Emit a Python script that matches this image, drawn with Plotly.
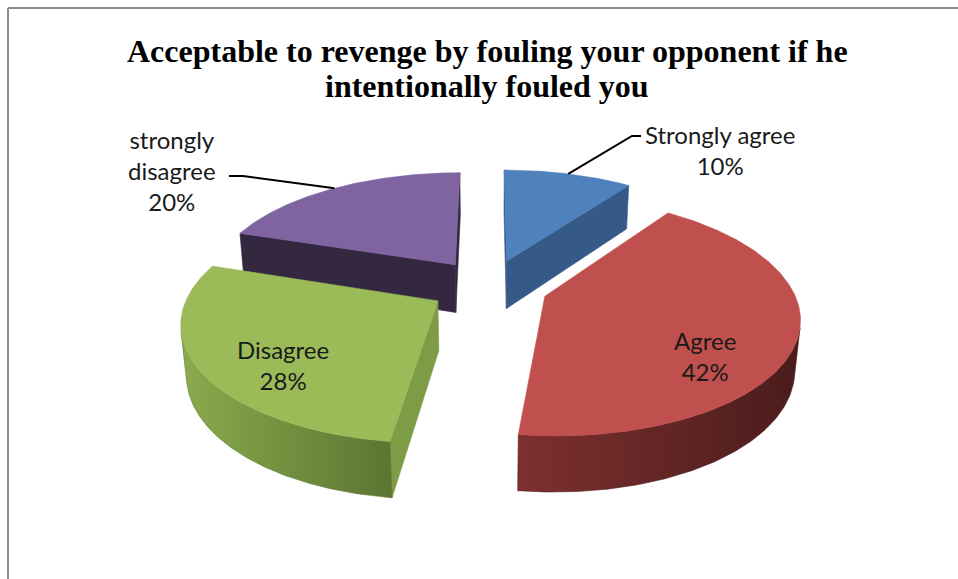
import numpy as np
import plotly.graph_objects as go

# ---- data -------------------------------------------------------------
categories = ["Strongly agree", "Agree", "Disagree", "strongly disagree"]
percent = [10, 42, 28, 20]
label_lines = ["Strongly agree", "Agree", "Disagree", "strongly<br>disagree"]

top_colors = ["#4F81BD", "#C0504D", "#9BBB59", "#8064A2"]
side_colors = [("#3F6797", "#2C4A70"), ("#7D302F", "#4A1C1B"),
               ("#8AAB4D", "#5C7532"), ("#4A3A5E", "#2E2238")]
face_colors = ["#365A88", "#7A2E2D", "#7C9D46", "#342840"]

title_lines = ["Acceptable to revenge by fouling your opponent if he",
               "intentionally fouled you"]

# ---- page / 3-D projection setup --------------------------------------
W, H = 958, 579
CX, CY = 489, 286                      # pixel position of the pie centre
F, DIST, TILT = 1387.0, 5.48, np.radians(26.6)
XSCALE = 0.975                         # slight horizontal squeeze of the view
THICK = 0.22                           # pie thickness (radius = 1)
EXPLODE = 0.24                         # slice explosion distance

cam = np.array([0.0, DIST * np.sin(TILT), -DIST * np.cos(TILT)])


def project(X, Y, Z):
    X, Y, Z = map(np.asarray, (X, Y, Z))
    depth = DIST + Z * np.cos(TILT) - Y * np.sin(TILT)
    u = XSCALE * F * X / depth
    v = F * (Z * np.sin(TILT) + Y * np.cos(TILT)) / depth
    return u, v


def px(x, y):
    """page pixel -> axis units"""
    return x - CX, CY - y


def poly(u, v, color, gradient=None):
    kw = dict(x=list(u) + [u[0]], y=list(v) + [v[0]], mode="lines",
              fill="toself", hoverinfo="skip", showlegend=False,
              line=dict(width=0.6, color=color))
    if gradient:
        kw["fillgradient"] = dict(type="horizontal",
                                  colorscale=[[0, gradient[0]], [1, gradient[1]]])
        kw["line"] = dict(width=0.6, color=gradient[1])
    else:
        kw["fillcolor"] = color
    return go.Scatter(**kw)


fracs = np.array(percent, float) / sum(percent)
ends = np.cumsum(fracs) * 2 * np.pi
starts = ends - fracs * 2 * np.pi
mids = (starts + ends) / 2
offs = [(EXPLODE * np.sin(m), EXPLODE * np.cos(m)) for m in mids]

fig = go.Figure()

order = sorted(range(len(percent)), key=lambda i: -offs[i][1])
for i in order:
    s, e = starts[i], ends[i]
    ox, oz = offs[i]
    th = np.linspace(s, e, 200)
    rx, rz = ox + np.sin(th), oz + np.cos(th)

    # radial cut faces
    for ang, nrm in ((s, (-np.cos(s), 0, np.sin(s))), (e, (np.cos(e), 0, -np.sin(e)))):
        P = np.array([ox + 0.5 * np.sin(ang), -THICK / 2, oz + 0.5 * np.cos(ang)])
        if np.dot(cam - P, nrm) > 0:
            X = [ox, ox + np.sin(ang), ox + np.sin(ang), ox]
            Z = [oz, oz + np.cos(ang), oz + np.cos(ang), oz]
            Y = [0, 0, -THICK, -THICK]
            u, v = project(X, Y, Z)
            fig.add_trace(poly(u, v, face_colors[i]))

    # outer curved side (only the part facing the viewer)
    P = np.stack([rx, np.full_like(rx, -THICK / 2), rz], axis=1)
    N = np.stack([np.sin(th), np.zeros_like(th), np.cos(th)], axis=1)
    vis = np.einsum("ij,ij->i", cam - P, N) > 0
    if vis.sum() >= 2:
        vx, vz = rx[vis], rz[vis]
        ut, vt = project(vx, np.zeros_like(vx), vz)
        ub, vb = project(vx[::-1], np.full_like(vx, -THICK), vz[::-1])
        fig.add_trace(poly(np.r_[ut, ub], np.r_[vt, vb], side_colors[i][0], side_colors[i]))

    # top face
    u, v = project(np.r_[ox, rx], np.zeros(len(rx) + 1), np.r_[oz, rz])
    fig.add_trace(poly(u, v, top_colors[i]))

# ---- labels -----------------------------------------------------------
label_font = dict(family="Lato, Calibri, sans-serif", size=24, color="#1a1a1a")
label_pos = {0: (720, 150), 1: (705, 356), 2: (283, 365), 3: (172, 170)}
annotations = []
for i, (lx, ly) in label_pos.items():
    ax_, ay_ = px(lx, ly)
    annotations.append(dict(x=ax_, y=ay_, xref="x", yref="y", showarrow=False,
                            text=f"{label_lines[i]}<br>{percent[i]}%",
                            font=label_font, align="center", yanchor="middle"))

# leader lines from the rim of the two back slices to their labels
leader_ends = {0: [(632, 136), (641, 136)], 3: [(243, 176), (229, 176)]}
for i, pts in leader_ends.items():
    ox, oz = offs[i]
    u0, v0 = project(ox + np.sin(mids[i]), 0.0, oz + np.cos(mids[i]))
    xs = [float(u0)] + [px(a, b)[0] for a, b in pts]
    ys = [float(v0)] + [px(a, b)[1] for a, b in pts]
    fig.add_trace(go.Scatter(x=xs, y=ys, mode="lines", hoverinfo="skip",
                             showlegend=False, line=dict(color="#000000", width=2)))

title_font = dict(family="Liberation Serif, Times New Roman, serif",
                  size=32, color="#000000", weight="bold")
for line, ty in zip(title_lines, (51, 86)):
    annotations.append(dict(x=487 / W, y=1 - ty / H, xref="paper", yref="paper",
                            showarrow=False, text=line, yanchor="middle",
                            font=title_font))

fig.update_layout(
    width=W, height=H, margin=dict(l=0, r=0, t=0, b=0),
    paper_bgcolor="white", plot_bgcolor="white",
    xaxis=dict(range=[-CX, W - CX], visible=False, fixedrange=True),
    yaxis=dict(range=[CY - H, CY], visible=False, fixedrange=True),
    annotations=annotations,
    shapes=[
        dict(type="line", xref="paper", yref="paper", x0=8 / W, x1=1, y0=1 - 8 / H, y1=1 - 8 / H,
             line=dict(color="#8C8C8C", width=2)),
        dict(type="line", xref="paper", yref="paper", x0=8 / W, x1=8 / W, y0=0, y1=1 - 8 / H,
             line=dict(color="#8C8C8C", width=2)),
    ],
)

fig.write_html("out.html")
